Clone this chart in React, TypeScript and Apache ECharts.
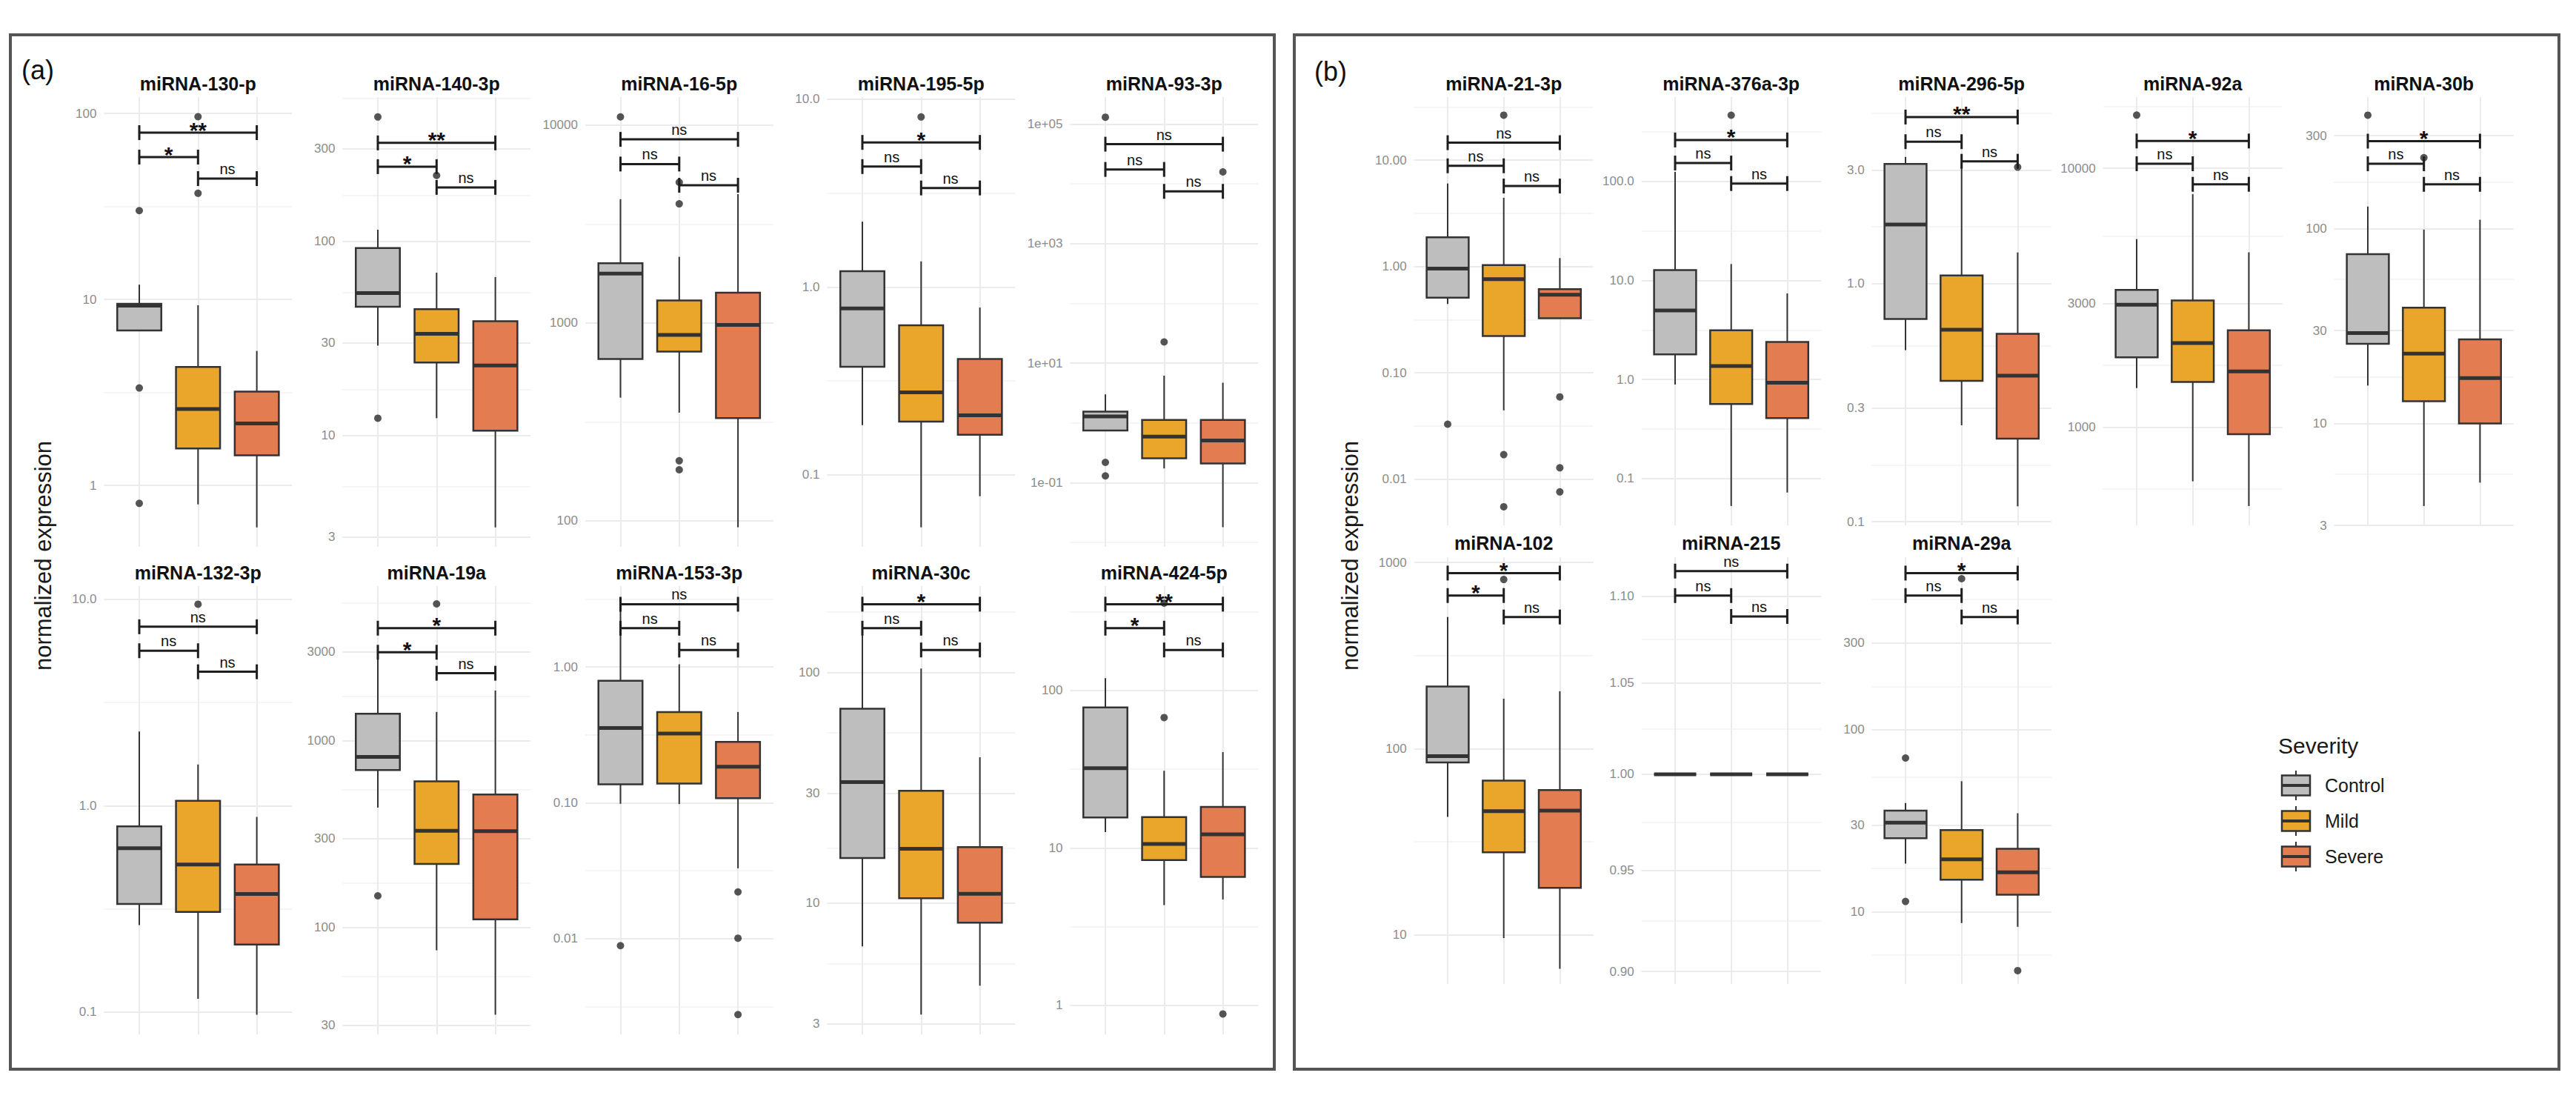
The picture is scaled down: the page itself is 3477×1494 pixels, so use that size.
import React, { useEffect, useRef } from 'react';
import * as echarts from 'echarts';

// ---------------- data ----------------
const GROUPS = ['Control', 'Mild', 'Severe'];
const GROUP_COLORS = ['#BEBEBE', '#E9A62A', '#E47C52'];

// box rows: [lower whisker, Q1, median, Q3, upper whisker] for Control, Mild, Severe
// outliers: [group index, value]; brackets: [from, to, y, label]

// ---- panel (a) ----
const m130p_box = [[6.8, 6.8, 9.25, 9.46, 12.0], [0.79, 1.58, 2.57, 4.33, 9.3], [0.594, 1.45, 2.15, 3.19, 5.28]];
const m130p_out = [[0, 30], [0, 3.34], [0, 0.8], [1, 96], [1, 37.2]];
const m130p_sig = [[0, 2, 78.8, '**'], [0, 1, 58.2, '*'], [1, 2, 44.6, 'ns']];
const m130p_ticks = [1, 10, 100];
const m130p_labels = ['1', '10', '100'];
const m130p_range = [0.467, 122.4];

const m140_box = [[29.1, 46.1, 54.3, 92.5, 115], [12.3, 23.8, 33.5, 44.8, 69.1], [3.37, 10.6, 23.0, 38.9, 65.6]];
const m140_out = [[0, 438], [0, 12.3], [1, 219]];
const m140_sig = [[0, 2, 322, '**'], [0, 1, 243, '*'], [1, 2, 190, 'ns']];
const m140_ticks = [3, 10, 30, 100, 300];
const m140_labels = ['3', '10', '30', '100', '300'];
const m140_range = [2.676, 554.6];

const m16_box = [[419, 657, 1775, 2002, 4222], [352, 716, 869, 1299, 2158], [92.7, 330, 977, 1422, 4478]];
const m16_out = [[0, 11000], [1, 5140], [1, 4000], [1, 201], [1, 181]];
const m16_sig = [[0, 2, 8470, 'ns'], [0, 1, 6355, 'ns'], [1, 2, 4966, 'ns']];
const m16_ticks = [100, 1000, 10000];
const m16_labels = ['100', '1000', '10000'];
const m16_range = [73.8, 13857];

const m195_box = [[0.184, 0.376, 0.77, 1.216, 2.23], [0.0526, 0.192, 0.275, 0.626, 1.37], [0.077, 0.1634, 0.2075, 0.414, 0.778]];
const m195_out = [[1, 8.05]];
const m195_sig = [[0, 2, 5.89, '*'], [0, 1, 4.38, 'ns'], [1, 2, 3.37, 'ns']];
const m195_ticks = [0.1, 1, 10];
const m195_labels = ['0.1', '1.0', '10.0'];
const m195_range = [0.0414, 10.27];

const m93_box = [[0.746, 0.746, 1.28, 1.54, 3.0], [0.173, 0.256, 0.59, 1.12, 6.17], [0.018, 0.2095, 0.509, 1.12, 4.7]];
const m93_out = [[0, 130000], [0, 0.219], [0, 0.13], [1, 22.6], [2, 15800]];
const m93_sig = [[0, 2, 46000, 'ns'], [0, 1, 17400, 'ns'], [1, 2, 7480, 'ns']];
const m93_ticks = [0.1, 10, 1000, 100000];
const m93_labels = ['1e-01', '1e+01', '1e+03', '1e+05'];
const m93_range = [0.00845, 282500];

const m132_box = [[0.264, 0.334, 0.623, 0.794, 2.29], [0.116, 0.306, 0.519, 1.056, 1.585], [0.0971, 0.2126, 0.374, 0.519, 0.883]];
const m132_out = [[1, 9.48]];
const m132_sig = [[0, 2, 7.37, 'ns'], [0, 1, 5.64, 'ns'], [1, 2, 4.46, 'ns']];
const m132_ticks = [0.1, 1, 10];
const m132_labels = ['0.1', '1.0', '10.0'];
const m132_range = [0.078, 11.6];

const m19a_box = [[439, 697, 820, 1394, 2725], [75.6, 219, 330, 607, 1426], [34.2, 110.7, 328, 516, 1857]];
const m19a_out = [[0, 148], [1, 5400]];
const m19a_sig = [[0, 2, 4003, '*'], [0, 1, 2975, '*'], [1, 2, 2297, 'ns']];
const m19a_ticks = [30, 100, 300, 1000, 3000];
const m19a_labels = ['30', '100', '300', '1000', '3000'];
const m19a_range = [26.83, 6722];

const m153_box = [[0.0984, 0.137, 0.355, 0.791, 2.7], [0.098, 0.1386, 0.323, 0.466, 1.045], [0.033, 0.108, 0.1845, 0.2806, 0.466]];
const m153_out = [[0, 0.0089], [2, 0.0221], [2, 0.0101], [2, 0.00277]];
const m153_sig = [[0, 2, 2.89, 'ns'], [0, 1, 1.925, 'ns'], [1, 2, 1.33, 'ns']];
const m153_ticks = [0.01, 0.1, 1];
const m153_labels = ['0.01', '0.10', '1.00'];
const m153_range = [0.00198, 3.93];

const m30c_box = [[6.5, 15.7, 33.5, 69.6, 145], [3.29, 10.5, 17.2, 30.7, 104], [4.39, 8.23, 10.99, 17.5, 42.9]];
const m30c_out: number[][] = [];
const m30c_sig = [[0, 2, 197.7, '*'], [0, 1, 155.6, 'ns'], [1, 2, 125.2, 'ns']];
const m30c_ticks = [3, 10, 30, 100];
const m30c_labels = ['3', '10', '30', '100'];
const m30c_range = [2.7, 236.8];

const m424_box = [[12.6, 15.6, 32.1, 78.1, 119.8], [4.33, 8.36, 10.6, 15.7, 30.9], [4.7, 6.54, 12.2, 18.2, 40.6]];
const m424_out = [[1, 359], [1, 67.3], [2, 0.881]];
const m424_sig = [[0, 2, 353.6, '**'], [0, 1, 249, '*'], [1, 2, 181, 'ns']];
const m424_ticks = [1, 10, 100];
const m424_labels = ['1', '10', '100'];
const m424_range = [0.653, 460.7];

// ---- panel (b) ----
const m21_box = [[0.444, 0.51, 0.956, 1.88, 6.03], [0.0444, 0.222, 0.759, 1.03, 4.43], [0.3265, 0.3265, 0.542, 0.613, 1.2]];
const m21_out = [[0, 0.0329], [1, 26.5], [1, 0.017], [1, 0.0055], [2, 0.0594], [2, 0.0128], [2, 0.0076]];
const m21_sig = [[0, 2, 14.6, 'ns'], [0, 1, 8.85, 'ns'], [1, 2, 5.71, 'ns']];
const m21_ticks = [0.01, 0.1, 1, 10];
const m21_labels = ['0.01', '0.10', '1.00', '10.00'];
const m21_range = [0.00368, 39.2];

const m376_box = [[0.889, 1.79, 4.98, 12.75, 125], [0.0527, 0.565, 1.366, 3.14, 14.66], [0.0721, 0.407, 0.927, 2.39, 7.4]];
const m376_out = [[1, 467]];
const m376_sig = [[0, 2, 262.6, '*'], [0, 1, 153.5, 'ns'], [1, 2, 95.3, 'ns']];
const m376_ticks = [0.1, 1, 10, 100];
const m376_labels = ['0.1', '1.0', '10.0', '100.0'];
const m376_range = [0.0336, 712];

const m296_box = [[0.525, 0.71, 1.77, 3.18, 3.4], [0.254, 0.39, 0.64, 1.08, 3.2], [0.116, 0.223, 0.41, 0.615, 1.35]];
const m296_out = [[2, 3.08]];
const m296_sig = [[0, 2, 5.0, '**'], [0, 1, 3.94, 'ns'], [1, 2, 3.26, 'ns']];
const m296_ticks = [0.1, 0.3, 1, 3];
const m296_labels = ['0.1', '0.3', '1.0', '3.0'];
const m296_range = [0.0965, 6.065];

const m92a_box = [[1415, 1861, 2969, 3390, 5324], [617, 1493, 2113, 3083, 7943], [495, 939, 1641, 2366, 4738]];
const m92a_out = [[0, 16060]];
const m92a_sig = [[0, 2, 12755, '*'], [0, 1, 10420, 'ns'], [1, 2, 8678, 'ns']];
const m92a_ticks = [1000, 3000, 10000];
const m92a_labels = ['1000', '3000', '10000'];
const m92a_range = [416.9, 18860];

const m30b_box = [[15.65, 25.6, 29.1, 74, 129.7], [3.77, 13.0, 22.8, 39.3, 98.8], [4.97, 10, 17.1, 27, 111]];
const m30b_out = [[0, 382], [1, 231]];
const m30b_sig = [[0, 2, 281, '*'], [0, 1, 215, 'ns'], [1, 2, 168.7, 'ns']];
const m30b_ticks = [3, 10, 30, 100, 300];
const m30b_labels = ['3', '10', '30', '100', '300'];
const m30b_range = [3.0, 473];

const m102_box = [[43.1, 84.4, 91.3, 216, 510], [9.63, 27.8, 46.2, 67.5, 185.8], [6.59, 17.9, 46.6, 60.1, 203.7]];
const m102_out = [[1, 811]];
const m102_sig = [[0, 2, 878, '*'], [0, 1, 665, '*'], [1, 2, 510, 'ns']];
const m102_ticks = [10, 100, 1000];
const m102_labels = ['10', '100', '1000'];
const m102_range = [5.46, 1068];

const m215_box = [[1, 1, 1, 1, 1], [1, 1, 1, 1, 1], [1, 1, 1, 1, 1]];
const m215_out: number[][] = [];
const m215_sig = [[0, 2, 1.1147, 'ns'], [0, 1, 1.1002, 'ns'], [1, 2, 1.088, 'ns']];
const m215_ticks = [0.9, 0.95, 1, 1.05, 1.1];
const m215_labels = ['0.90', '0.95', '1.00', '1.05', '1.10'];
const m215_range = [0.894, 1.123];

const m29a_box = [[18.4, 25.4, 30.9, 36, 39.6], [8.67, 15.0, 19.4, 28.1, 52.2], [8.27, 12.4, 16.5, 22.2, 34.8]];
const m29a_out = [[0, 70], [0, 11.4], [1, 677], [2, 4.75]];
const m29a_sig = [[0, 2, 727, '*'], [0, 1, 547, 'ns'], [1, 2, 417, 'ns']];
const m29a_ticks = [10, 30, 100, 300];
const m29a_labels = ['10', '30', '100', '300'];
const m29a_range = [4.01, 888.6];

const FACET_NAMES = [
  'miRNA-130-p', 'miRNA-140-3p', 'miRNA-16-5p', 'miRNA-195-5p', 'miRNA-93-3p',
  'miRNA-132-3p', 'miRNA-19a', 'miRNA-153-3p', 'miRNA-30c', 'miRNA-424-5p',
  'miRNA-21-3p', 'miRNA-376a-3p', 'miRNA-296-5p', 'miRNA-92a', 'miRNA-30b',
  'miRNA-102', 'miRNA-215', 'miRNA-29a',
];

const FACETS = [
  [m130p_box, m130p_out, m130p_sig, m130p_ticks, m130p_labels, m130p_range],
  [m140_box, m140_out, m140_sig, m140_ticks, m140_labels, m140_range],
  [m16_box, m16_out, m16_sig, m16_ticks, m16_labels, m16_range],
  [m195_box, m195_out, m195_sig, m195_ticks, m195_labels, m195_range],
  [m93_box, m93_out, m93_sig, m93_ticks, m93_labels, m93_range],
  [m132_box, m132_out, m132_sig, m132_ticks, m132_labels, m132_range],
  [m19a_box, m19a_out, m19a_sig, m19a_ticks, m19a_labels, m19a_range],
  [m153_box, m153_out, m153_sig, m153_ticks, m153_labels, m153_range],
  [m30c_box, m30c_out, m30c_sig, m30c_ticks, m30c_labels, m30c_range],
  [m424_box, m424_out, m424_sig, m424_ticks, m424_labels, m424_range],
  [m21_box, m21_out, m21_sig, m21_ticks, m21_labels, m21_range],
  [m376_box, m376_out, m376_sig, m376_ticks, m376_labels, m376_range],
  [m296_box, m296_out, m296_sig, m296_ticks, m296_labels, m296_range],
  [m92a_box, m92a_out, m92a_sig, m92a_ticks, m92a_labels, m92a_range],
  [m30b_box, m30b_out, m30b_sig, m30b_ticks, m30b_labels, m30b_range],
  [m102_box, m102_out, m102_sig, m102_ticks, m102_labels, m102_range],
  [m215_box, m215_out, m215_sig, m215_ticks, m215_labels, m215_range],
  [m29a_box, m29a_out, m29a_sig, m29a_ticks, m29a_labels, m29a_range],
] as any[];

// ---------------- layout ----------------
const FONT = '"Liberation Sans", Arial, Helvetica, sans-serif';
const A_LEFTS = [140.4, 462.4, 789.9, 1116.4, 1444.4];
const A_W = 253.8;
const B_LEFTS = [1908.6, 2215.6, 2526.6, 2838.6, 3150.6];
const B_W = 242.2;

function layoutOf(i: number) {
  if (i < 5) return { left: A_LEFTS[i], width: A_W, top: 131, height: 607, titleY: 113 };
  if (i < 10) return { left: A_LEFTS[i - 5], width: A_W, top: 791, height: 605, titleY: 773 };
  if (i < 15) return { left: B_LEFTS[i - 10], width: B_W, top: 131, height: 578, titleY: 113 };
  return { left: B_LEFTS[i - 15], width: B_W, top: 752, height: 576, titleY: 733 };
}

const lg = (v: number) => Math.log10(v);

function minorLogs(majors: number[], lo: number, hi: number) {
  const b = majors.map(lg);
  const bd = b[1] - b[0];
  const ext = [b[0] - bd, ...b, b[b.length - 1] + bd];
  const res: number[] = [];
  for (let k = 0; k < ext.length - 1; k++) res.push((ext[k] + ext[k + 1]) / 2);
  return res.filter((v) => v > lo && v < hi);
}

const LINE = '#333333';
const GRID_MAJOR = '#EBEBEB';
const GRID_MINOR = '#F2F2F2';

function buildOption() {
  const grid: any[] = [];
  const xAxis: any[] = [];
  const yAxis: any[] = [];
  const series: any[] = [];
  const graphic: any[] = [];

  FACETS.forEach((f: any[], i: number) => {
    const [box, out, sig, ticks, labels, range] = f;
    const L = layoutOf(i);
    grid.push({ left: L.left, top: L.top, width: L.width, height: L.height });
    xAxis.push({
      gridIndex: i, type: 'value', min: -0.6, max: 2.6,
      axisLine: { show: false },
      axisTick: { show: false, customValues: [0, 1, 2] },
      axisLabel: { show: false },
      splitLine: { show: true, lineStyle: { color: GRID_MAJOR, width: 2 } },
    });
    const lo = lg(range[0]);
    const hi = lg(range[1]);
    const majors = (ticks as number[]).map(lg);
    const minors = minorLogs(ticks, lo, hi);
    yAxis.push({
      gridIndex: i, type: 'value', min: lo, max: hi,
      axisLine: { show: false },
      axisTick: { show: false, customValues: majors },
      axisLabel: {
        customValues: majors,
        color: '#8C8C8C', fontSize: 17, fontFamily: FONT, margin: 10,
        formatter: (v: number) => {
          let best = 0;
          let bd = Infinity;
          majors.forEach((m, k) => {
            const d = Math.abs(m - v);
            if (d < bd) { bd = d; best = k; }
          });
          return labels[best];
        },
      },
      splitLine: { show: true, lineStyle: { color: GRID_MAJOR, width: 2 } },
    });
    yAxis.push({
      gridIndex: i, type: 'value', min: lo, max: hi,
      axisLine: { show: false },
      axisTick: { show: false, customValues: minors },
      axisLabel: { show: false },
      splitLine: { show: true, lineStyle: { color: GRID_MINOR, width: 1.5 } },
    });
    const yi = i * 2;

    series.push({
      type: 'custom', name: FACET_NAMES[i] + ' box', xAxisIndex: i, yAxisIndex: yi, z: 2,
      encode: { x: 0, y: [1, 2, 3, 4, 5] },
      data: (box as number[][]).map((b, k) => [k, ...b.map(lg)]),
      renderItem: (params: any, api: any) => {
        const x = api.value(0);
        const pLo = api.coord([x, api.value(1)]);
        const pQ1 = api.coord([x, api.value(2)]);
        const pMed = api.coord([x, api.value(3)]);
        const pQ3 = api.coord([x, api.value(4)]);
        const pHi = api.coord([x, api.value(5)]);
        const w = api.size([1, 0])[0] * 0.75;
        const color = GROUP_COLORS[params.dataIndex];
        return {
          type: 'group',
          children: [
            { type: 'line', shape: { x1: pHi[0], y1: pHi[1], x2: pQ3[0], y2: pQ3[1] }, style: { stroke: LINE, lineWidth: 2 } },
            { type: 'line', shape: { x1: pQ1[0], y1: pQ1[1], x2: pLo[0], y2: pLo[1] }, style: { stroke: LINE, lineWidth: 2 } },
            { type: 'rect', shape: { x: pQ3[0] - w / 2, y: pQ3[1], width: w, height: pQ1[1] - pQ3[1] }, style: { fill: color, stroke: LINE, lineWidth: 2.5 } },
            { type: 'line', shape: { x1: pMed[0] - w / 2, y1: pMed[1], x2: pMed[0] + w / 2, y2: pMed[1] }, style: { stroke: LINE, lineWidth: 5 } },
          ],
        };
      },
    });

    series.push({
      type: 'scatter', name: FACET_NAMES[i] + ' outliers', xAxisIndex: i, yAxisIndex: yi, z: 3,
      symbol: 'circle', symbolSize: 10,
      itemStyle: { color: '#2A2A2A' },
      data: (out as number[][]).map(([c, v]) => [c, lg(v)]),
    });

    series.push({
      type: 'custom', name: FACET_NAMES[i] + ' signif', xAxisIndex: i, yAxisIndex: yi, z: 4,
      encode: { x: [0, 1], y: 2 },
      data: (sig as any[]).map((s) => [s[0], s[1], lg(s[2])]),
      renderItem: (params: any, api: any) => {
        const y = api.value(2);
        const p1 = api.coord([api.value(0), y]);
        const p2 = api.coord([api.value(1), y]);
        const label = sig[params.dataIndex][3];
        const star = label !== 'ns';
        const mx = (p1[0] + p2[0]) / 2;
        const st = { stroke: '#1E1E1E', lineWidth: 3 };
        return {
          type: 'group',
          children: [
            { type: 'line', shape: { x1: p1[0], y1: p1[1], x2: p2[0], y2: p2[1] }, style: st },
            { type: 'line', shape: { x1: p1[0], y1: p1[1] - 10, x2: p1[0], y2: p1[1] + 10 }, style: st },
            { type: 'line', shape: { x1: p2[0], y1: p2[1] - 10, x2: p2[0], y2: p2[1] + 10 }, style: st },
            {
              type: 'text', x: mx, y: star ? p1[1] - 4 : p1[1] - 13,
              style: {
                text: label, fill: '#111111', align: 'center', verticalAlign: 'middle',
                fontFamily: FONT, fontSize: star ? 30 : 20, fontWeight: star ? 'bold' : 'normal',
              },
            },
          ],
        };
      },
    });

    graphic.push({
      type: 'text', x: L.left + L.width / 2, y: L.titleY,
      style: { text: FACET_NAMES[i], fill: '#111111', fontFamily: FONT, fontSize: 25, fontWeight: 'bold', align: 'center', verticalAlign: 'middle' },
    });
  });

  // panel frames
  graphic.push({ type: 'rect', shape: { x: 14, y: 47, width: 1706, height: 1396 }, style: { fill: 'none', stroke: '#555555', lineWidth: 4 } });
  graphic.push({ type: 'rect', shape: { x: 1747, y: 47, width: 1707, height: 1396 }, style: { fill: 'none', stroke: '#555555', lineWidth: 4 } });
  // panel tags
  graphic.push({ type: 'text', x: 29, y: 94, style: { text: '(a)', fill: '#111', fontFamily: FONT, fontSize: 36, align: 'left', verticalAlign: 'middle' } });
  graphic.push({ type: 'text', x: 1774, y: 96, style: { text: '(b)', fill: '#111', fontFamily: FONT, fontSize: 36, align: 'left', verticalAlign: 'middle' } });
  // y axis titles
  graphic.push({ type: 'text', x: 58, y: 750, rotation: Math.PI / 2, style: { text: 'normalized expression', fill: '#1A1A1A', fontFamily: FONT, fontSize: 31, align: 'center', verticalAlign: 'middle' } });
  graphic.push({ type: 'text', x: 1822, y: 750, rotation: Math.PI / 2, style: { text: 'normalized expression', fill: '#1A1A1A', fontFamily: FONT, fontSize: 31, align: 'center', verticalAlign: 'middle' } });

  // legend
  graphic.push({ type: 'text', x: 3075, y: 1006, style: { text: 'Severity', fill: '#1A1A1A', fontFamily: FONT, fontSize: 30, align: 'left', verticalAlign: 'middle' } });
  GROUPS.forEach((g, k) => {
    const cy = 1060 + k * 48;
    const cx = 3099;
    graphic.push({ type: 'line', shape: { x1: cx, y1: cy - 20, x2: cx, y2: cy + 20 }, style: { stroke: LINE, lineWidth: 2 } });
    graphic.push({ type: 'rect', shape: { x: cx - 19, y: cy - 13.5, width: 38, height: 27 }, style: { fill: GROUP_COLORS[k], stroke: LINE, lineWidth: 2.5 } });
    graphic.push({ type: 'line', shape: { x1: cx - 19, y1: cy, x2: cx + 19, y2: cy }, style: { stroke: LINE, lineWidth: 4 } });
    graphic.push({ type: 'text', x: 3138, y: cy, style: { text: g, fill: '#1A1A1A', fontFamily: FONT, fontSize: 25, align: 'left', verticalAlign: 'middle' } });
  });

  return {
    animation: false,
    backgroundColor: '#ffffff',
    grid, xAxis, yAxis, series, graphic,
  };
}

export default function App() {
  const ref = useRef<HTMLDivElement>(null);
  useEffect(() => {
    if (!ref.current) return;
    const chart = echarts.init(ref.current, null, { renderer: 'svg' });
    chart.setOption(buildOption() as any);
    return () => chart.dispose();
  }, []);
  return (
    <div
      ref={ref}
      style={{ position: 'absolute', left: 0, top: 0, width: 3477, height: 1494, background: '#ffffff' }}
    />
  );
}
